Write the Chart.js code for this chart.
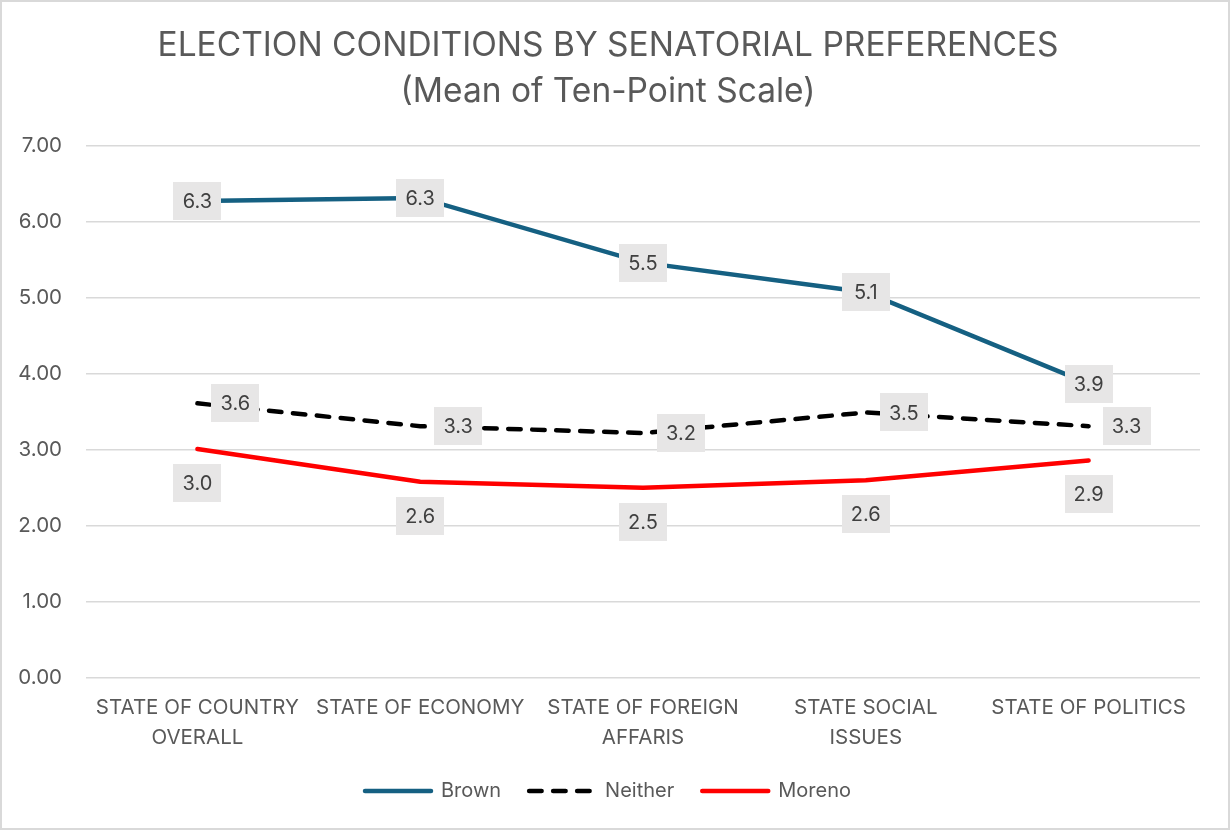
<!DOCTYPE html>
<html>
<head>
<meta charset="utf-8">
<script src="https://cdn.jsdelivr.net/npm/chart.js"></script>
<style>
  html, body { margin: 0; padding: 0; background: #fff; }
  #wrap { width: 1230px; height: 830px; }
</style>
</head>
<body>
<div id="wrap"><canvas id="myChart" width="1230" height="830"></canvas></div>
<script>
  // values
  const categories = [
    ['STATE OF COUNTRY', 'OVERALL'],
    'STATE OF ECONOMY',
    ['STATE OF FOREIGN', 'AFFARIS'],
    ['STATE SOCIAL', 'ISSUES'],
    'STATE OF POLITICS'
  ];
  const brown = [6.27, 6.31, 5.46, 5.07, 3.87];
  const neither = [3.61, 3.31, 3.22, 3.49, 3.31];
  const moreno = [3.01, 2.58, 2.50, 2.60, 2.86];
  const yTicks = [0, 1, 2, 3, 4, 5, 6, 7];

  const FONT = 'Inter';
  const GREY_TEXT = '#595959';

  // white page + thin grey frame like the office chart border
  const frame = {
    id: 'frame',
    beforeDraw(chart) {
      const ctx = chart.ctx;
      ctx.save();
      ctx.fillStyle = '#ffffff';
      ctx.fillRect(0, 0, chart.width, chart.height);
      ctx.strokeStyle = '#D9D9D9';
      ctx.lineWidth = 2;
      ctx.strokeRect(1, 1, chart.width - 2, chart.height - 2);
      ctx.restore();
    }
  };

  // grey boxed value labels (no datalabels plugin offline, so draw them here)
  const valueBoxes = {
    id: 'valueBoxes',
    afterDatasetsDraw(chart) {
      const ctx = chart.ctx;
      ctx.save();
      ctx.font = '20px ' + FONT;
      ctx.textAlign = 'center';
      ctx.textBaseline = 'middle';
      chart.data.datasets.forEach((ds, i) => {
        const meta = chart.getDatasetMeta(i);
        meta.data.forEach((pt, j) => {
          const x = pt.x + ds.labelDx;
          const y = pt.y + ds.labelDy;
          ctx.fillStyle = '#E7E6E6';
          ctx.fillRect(Math.round(x - 24), Math.round(y - 19), 48, 38);
          ctx.fillStyle = '#404040';
          ctx.fillText(ds.data[j].toFixed(1), x, y + 1);
        });
      });
      ctx.restore();
    }
  };

  const ctx = document.getElementById('myChart');

  new Chart(ctx, {
    type: 'line',
    data: {
      labels: categories,
      datasets: [
        {
          label: 'Brown',
          data: brown,
          borderColor: '#156082',
          borderWidth: 4.5,
          borderCapStyle: 'round',
          labelDx: 0, labelDy: 0
        },
        {
          label: 'Neither',
          data: neither,
          borderColor: '#000000',
          borderWidth: 4.5,
          borderDash: [12.5, 11.5],
          borderCapStyle: 'round',
          labelDx: 38, labelDy: 0
        },
        {
          label: 'Moreno',
          data: moreno,
          borderColor: '#FF0000',
          borderWidth: 4.5,
          borderCapStyle: 'round',
          labelDx: 0, labelDy: 34
        }
      ]
    },
    options: {
      responsive: false,
      animation: false,
      elements: {
        point: { radius: 0, hoverRadius: 0 },
        line: { tension: 0 }
      },
      layout: { padding: { left: 16, right: 30, top: 0, bottom: 19 } },
      plugins: {
        title: {
          display: true,
          text: ['ELECTION CONDITIONS BY SENATORIAL PREFERENCES', '(Mean of Ten-Point Scale)'],
          color: GREY_TEXT,
          font: { family: FONT, size: 33.5, weight: 'normal', lineHeight: 1.38 },
          padding: { top: 23, bottom: 30 }
        },
        legend: {
          position: 'bottom',
          labels: {
            usePointStyle: true,
            pointStyleWidth: 66,
            color: GREY_TEXT,
            font: { family: FONT, size: 20 },
            padding: 28,
            generateLabels(chart) {
              const items = Chart.defaults.plugins.legend.labels.generateLabels(chart);
              items.forEach(it => {
                const ds = chart.data.datasets[it.datasetIndex];
                it.strokeStyle = ds.borderColor;
                it.fillStyle = ds.borderColor;
                it.lineWidth = ds.borderWidth;
                it.lineDash = ds.borderDash || [];
                it.lineCap = 'round';
                it.pointStyle = 'line';
              });
              return items;
            }
          }
        },
        tooltip: { enabled: false }
      },
      scales: {
        x: {
          offset: true,
          grid: { display: false, drawTicks: false },
          border: { display: false },
          ticks: {
            color: GREY_TEXT,
            font: { family: FONT, size: 20.5, lineHeight: 1.46 },
            padding: 15,
            maxRotation: 0,
            autoSkip: false
          },
          afterFit(scale) {
            scale.paddingLeft = 0;
            scale.paddingRight = 0;
            scale.height = 75;
          }
        },
        y: {
          min: 0,
          max: 7,
          afterBuildTicks(axis) {
            axis.ticks = yTicks.map(v => ({ value: v }));
          },
          afterFit(scale) {
            scale.width = 70;
          },
          grid: { color: '#D9D9D9', lineWidth: 1.5, drawTicks: false },
          border: { display: false },
          ticks: {
            color: GREY_TEXT,
            font: { family: FONT, size: 20.5 },
            padding: 24,
            callback: v => Number(v).toFixed(2)
          }
        }
      }
    },
    plugins: [frame, valueBoxes]
  });
</script>
</body>
</html>
